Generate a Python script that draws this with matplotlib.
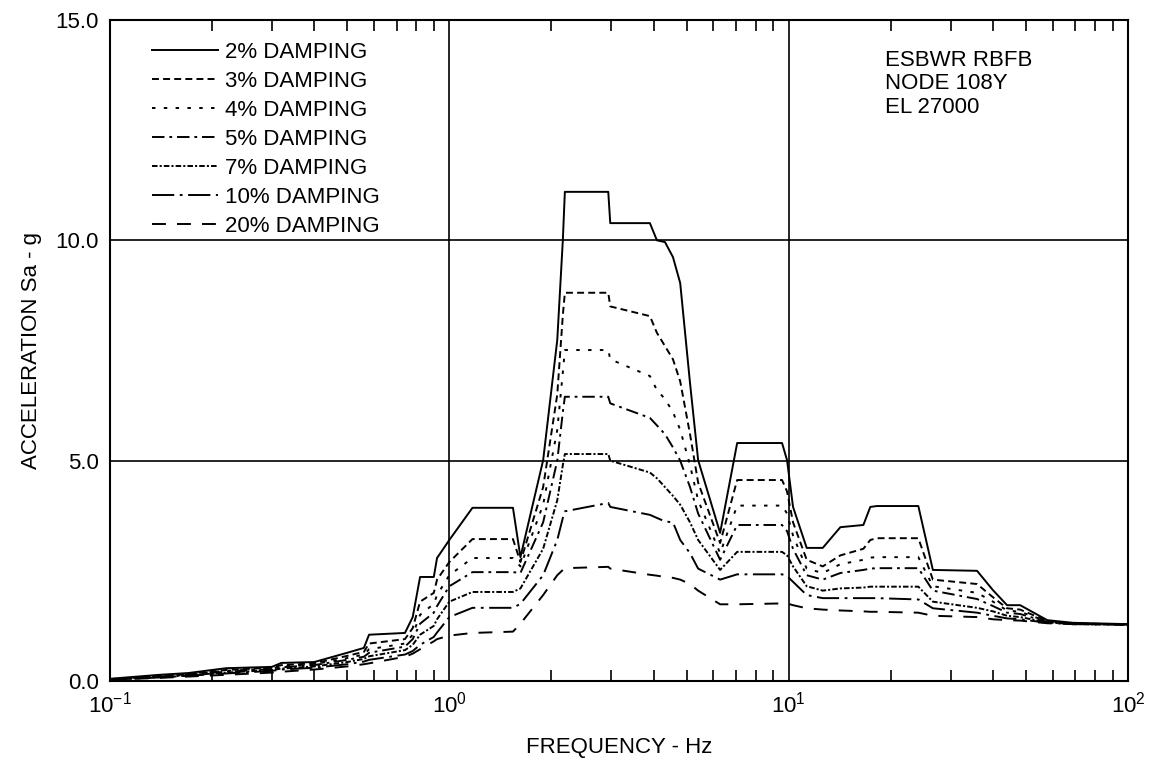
import numpy as np
import matplotlib
matplotlib.use("Agg")
import matplotlib.pyplot as plt
from matplotlib.ticker import FixedLocator, FormatStrFormatter, LogLocator, NullFormatter

plt.rcParams['font.family'] = ['Liberation Sans', 'DejaVu Sans']
plt.rcParams['lines.scale_dashes'] = False

# frequency grid (Hz)
freq = [0.1, 0.14, 0.17, 0.22, 0.30, 0.32, 0.40, 0.50, 0.56, 0.58, 0.74, 0.78,
        0.82, 0.90, 0.92, 1.0, 1.17, 1.54, 1.62, 1.89, 2.08, 2.16, 2.19, 2.94,
        2.98, 3.90, 4.09, 4.32, 4.56, 4.79, 5.12, 5.41, 6.28, 7.05, 9.56, 9.89,
        10.3, 11.3, 12.6, 14.2, 16.6, 17.4, 18.2, 24.1, 26.6, 35.9, 40.0, 44.0,
        48.1, 57.8, 68.9, 100.0]

sa_2 = [0.05, 0.14, 0.18, 0.29, 0.32, 0.41, 0.43, 0.64, 0.75, 1.05, 1.09, 1.45,
        2.36, 2.36, 2.79, 3.20, 3.93, 3.93, 2.81, 5.01, 7.74, 10.0, 11.1, 11.1,
        10.39, 10.39, 10.0, 9.96, 9.62, 9.03, 6.76, 5.01, 3.36, 5.40, 5.40, 5.01,
        3.95, 3.02, 3.02, 3.49, 3.54, 3.95, 3.97, 3.97, 2.52, 2.50, 2.06, 1.72,
        1.72, 1.38, 1.32, 1.29]
sa_3 = [0.04, 0.12, 0.16, 0.25, 0.30, 0.36, 0.40, 0.57, 0.66, 0.85, 0.95, 1.20,
        1.80, 2.00, 2.30, 2.70, 3.22, 3.22, 2.70, 4.40, 6.50, 8.30, 8.81, 8.81,
        8.50, 8.28, 7.90, 7.60, 7.30, 6.80, 5.60, 4.50, 3.13, 4.56, 4.56, 4.30,
        3.60, 2.75, 2.60, 2.85, 3.00, 3.20, 3.24, 3.24, 2.30, 2.20, 1.90, 1.65,
        1.62, 1.36, 1.31, 1.28]
sa_4 = [0.04, 0.11, 0.15, 0.23, 0.28, 0.33, 0.38, 0.52, 0.60, 0.72, 0.85, 1.05,
        1.50, 1.75, 1.95, 2.40, 2.79, 2.79, 2.60, 4.00, 5.70, 7.00, 7.51, 7.51,
        7.30, 6.92, 6.60, 6.40, 6.10, 5.70, 4.90, 4.10, 2.90, 3.98, 3.98, 3.80,
        3.30, 2.55, 2.45, 2.65, 2.75, 2.80, 2.81, 2.81, 2.15, 2.00, 1.80, 1.60,
        1.57, 1.35, 1.30, 1.28]
sa_5 = [0.035, 0.10, 0.14, 0.21, 0.27, 0.31, 0.36, 0.48, 0.55, 0.64, 0.78, 0.95,
        1.30, 1.55, 1.70, 2.15, 2.47, 2.47, 2.45, 3.60, 5.00, 6.10, 6.45, 6.45,
        6.30, 5.97, 5.80, 5.60, 5.30, 5.00, 4.40, 3.80, 2.75, 3.54, 3.54, 3.40,
        3.00, 2.40, 2.30, 2.45, 2.52, 2.55, 2.56, 2.56, 2.05, 1.86, 1.70, 1.55,
        1.52, 1.34, 1.30, 1.28]
sa_7 = [0.03, 0.09, 0.13, 0.19, 0.25, 0.28, 0.33, 0.43, 0.50, 0.56, 0.70, 0.82,
        1.05, 1.25, 1.40, 1.80, 2.02, 2.02, 2.10, 3.00, 4.10, 4.90, 5.15, 5.15,
        5.00, 4.73, 4.60, 4.40, 4.20, 4.00, 3.60, 3.20, 2.52, 2.93, 2.93, 2.85,
        2.60, 2.15, 2.05, 2.10, 2.12, 2.14, 2.14, 2.14, 1.80, 1.66, 1.58, 1.48,
        1.45, 1.33, 1.29, 1.28]
sa_10 = [0.03, 0.08, 0.12, 0.17, 0.23, 0.26, 0.30, 0.38, 0.44, 0.48, 0.60, 0.68,
         0.82, 1.00, 1.10, 1.45, 1.66, 1.66, 1.75, 2.40, 3.20, 3.70, 3.85, 4.04,
         3.95, 3.77, 3.70, 3.62, 3.60, 3.20, 2.90, 2.55, 2.30, 2.42, 2.42, 2.38,
         2.25, 1.95, 1.88, 1.88, 1.88, 1.88, 1.88, 1.85, 1.65, 1.55, 1.48, 1.42,
         1.40, 1.32, 1.29, 1.28]
sa_20 = [0.03, 0.07, 0.10, 0.14, 0.19, 0.21, 0.26, 0.33, 0.38, 0.40, 0.55, 0.62,
         0.72, 0.90, 0.95, 1.03, 1.09, 1.12, 1.30, 1.95, 2.40, 2.52, 2.56, 2.59,
         2.55, 2.41, 2.39, 2.36, 2.34, 2.30, 2.20, 2.05, 1.74, 1.74, 1.76, 1.76,
         1.72, 1.65, 1.62, 1.60, 1.58, 1.57, 1.57, 1.55, 1.48, 1.45, 1.40, 1.38,
         1.37, 1.31, 1.29, 1.28]

labels = ["2% DAMPING", "3% DAMPING", "4% DAMPING", "5% DAMPING",
          "7% DAMPING", "10% DAMPING", "20% DAMPING"]
series = [sa_2, sa_3, sa_4, sa_5, sa_7, sa_10, sa_20]
styles = ["-", (0, (5, 3)), (0, (2.5, 6)), (0, (9, 3.5, 2, 3.5)),
          (0, (4, 1.5, 1.5, 1.5)), (0, (16, 4, 2, 4)), (0, (10, 8))]

fig = plt.figure(figsize=(11.54, 7.63), dpi=100)
ax = fig.add_axes([0.0953, 0.1075, 0.8822, 0.8663])

for vals, lab, ls in zip(series, labels, styles):
    ax.plot(freq, vals, color="black", lw=1.4, ls=ls, label=lab)

ax.set_xscale("log")
ax.set_xlim(0.1, 100)
ax.set_ylim(0, 15)

ax.yaxis.set_major_locator(FixedLocator([0, 5, 10, 15]))
ax.yaxis.set_major_formatter(FormatStrFormatter("%.1f"))
ax.xaxis.set_minor_locator(LogLocator(base=10, subs=np.arange(2, 10)))
ax.xaxis.set_minor_formatter(NullFormatter())

ax.grid(True, which="major", color="black", lw=1.2)
ax.tick_params(axis="both", which="major", length=0, labelsize=16, pad=8)
ax.tick_params(axis="x", which="minor", direction="in", length=8, width=1.2,
               top=True, bottom=True)
for s in ax.spines.values():
    s.set_linewidth(1.5)

ax.set_xlabel("FREQUENCY - Hz", fontsize=16, labelpad=14)
ax.set_ylabel("ACCELERATION Sa - g", fontsize=16, labelpad=10)

ax.legend(loc="upper left", bbox_to_anchor=(0.041, 0.967), frameon=False,
          fontsize=16, handlelength=3.0, handletextpad=0.3, labelspacing=0.36,
          borderaxespad=0, borderpad=0)

ax.text(0.761, 0.955, "ESBWR RBFB\nNODE 108Y\nEL 27000", transform=ax.transAxes,
        fontsize=16, va="top", ha="left", linespacing=1.15)

fig.savefig("out.png", dpi=100)
